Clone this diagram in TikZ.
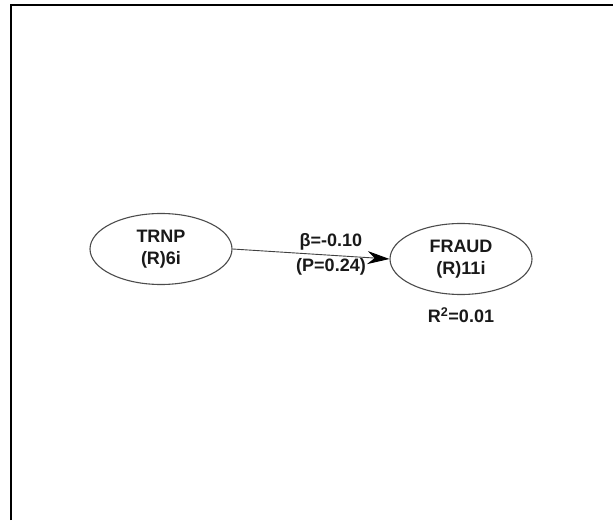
\documentclass[tikz,border=0pt]{standalone}
\usepackage{fontspec}
\setmainfont{Liberation Sans}
\usetikzlibrary{shapes.geometric,arrows.meta}
\begin{document}
\begin{tikzpicture}[x=1pt,y=1pt,
  latent/.style={ellipse,draw=black!70,line width=1.1pt,minimum width=142pt,minimum height=71pt,inner sep=0pt,align=center,font=\bfseries\fontsize{18}{22}\selectfont,text=black!90},
  lbl/.style={font=\bfseries\fontsize{18}{22}\selectfont,text=black!90,inner sep=0pt},
  path/.style={draw=black!75,line width=0.9pt,-{Stealth[length=22pt,width=13pt,fill=black,color=black]}}]
\useasboundingbox (0,0) rectangle (613,520);
\fill[white] (0,0) rectangle (613,520);
\draw[line width=2pt] (11,0) -- (11,515) -- (613,515);
\node[latent] (trnp) at (161,271) {TRNP\\(R)6i};
\node[latent] (fraud) at (461,261) {FRAUD\\(R)11i};
\draw[path] (trnp.east) -- (fraud.west);
\node[lbl] (beta) at (331,278) {β=-0.10};
\node[lbl] (p) at (331,253) {(P=0.24)};
\node[lbl] (r2) at (461,205) {R\textsuperscript{2}=0.01};
\end{tikzpicture}
\end{document}
